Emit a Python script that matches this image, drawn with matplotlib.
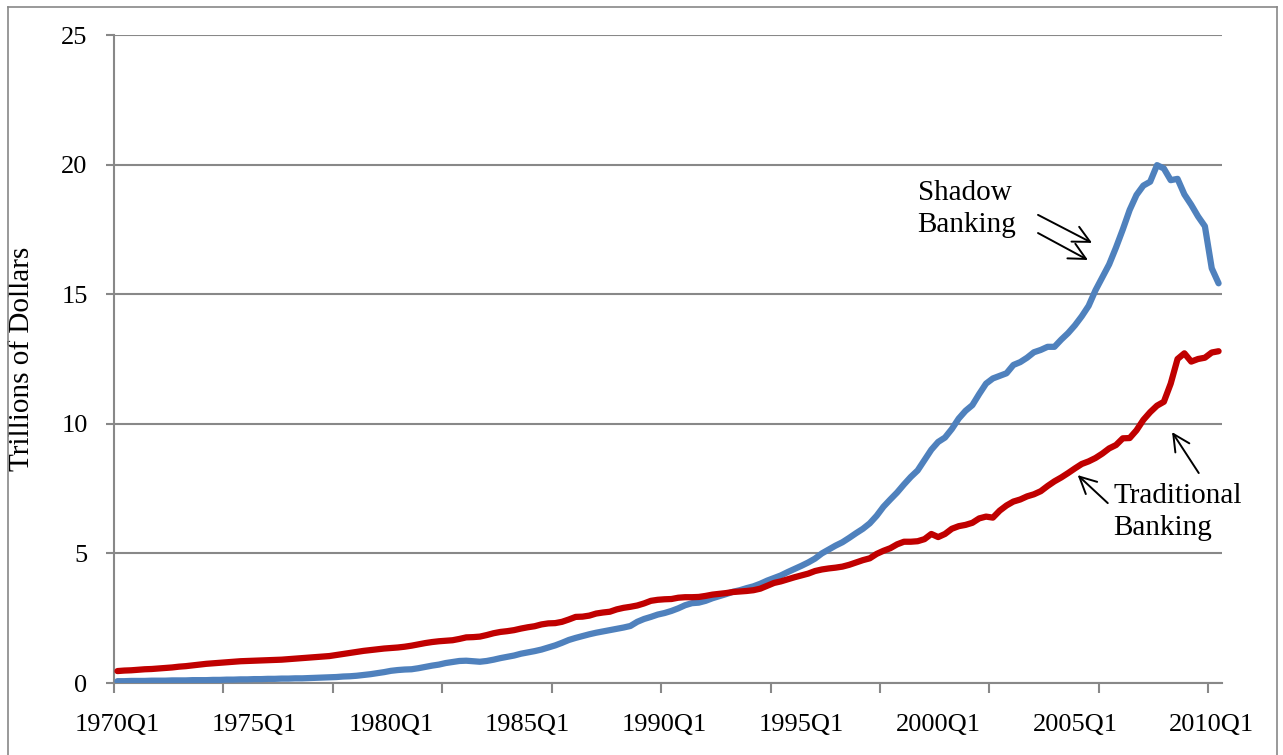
import matplotlib
matplotlib.use("Agg")
import matplotlib.pyplot as plt
from matplotlib.lines import Line2D

# Quarterly data, 1970Q1 - 2010Q2 (trillions of dollars)
start_year = 1970
shadow = [
    0.07, 0.07, 0.08, 0.08, 0.08, 0.09, 0.09, 0.09,
    0.10, 0.10, 0.10, 0.11, 0.11, 0.11, 0.12, 0.12,
    0.13, 0.13, 0.14, 0.14, 0.15, 0.15, 0.16, 0.16,
    0.17, 0.17, 0.18, 0.18, 0.19, 0.20, 0.21, 0.22,
    0.23, 0.25, 0.26, 0.28, 0.31, 0.34, 0.38, 0.42,
    0.47, 0.50, 0.52, 0.53, 0.57, 0.62, 0.67, 0.71,
    0.77, 0.81, 0.85, 0.86, 0.84, 0.82, 0.85, 0.90,
    0.96, 1.01, 1.06, 1.13, 1.18, 1.23, 1.29, 1.37,
    1.45, 1.55, 1.66, 1.74, 1.81, 1.88, 1.94, 1.99,
    2.04, 2.09, 2.14, 2.20, 2.36, 2.47, 2.55, 2.64,
    2.70, 2.78, 2.88, 3.00, 3.08, 3.10, 3.17, 3.27,
    3.35, 3.43, 3.52, 3.58, 3.66, 3.73, 3.83, 3.95,
    4.05, 4.15, 4.28, 4.40, 4.52, 4.65, 4.80, 5.00,
    5.15, 5.30, 5.43, 5.60, 5.78, 5.95, 6.16, 6.45,
    6.80, 7.08, 7.35, 7.66, 7.95, 8.20, 8.60, 9.00,
    9.30, 9.47, 9.80, 10.20, 10.50, 10.72, 11.15, 11.55,
    11.75, 11.85, 11.95, 12.27, 12.38, 12.55, 12.76, 12.85,
    12.97, 12.97, 13.25, 13.50, 13.80, 14.15, 14.55, 15.15,
    15.65, 16.15, 16.80, 17.50, 18.25, 18.83, 19.19, 19.34,
    19.98, 19.85, 19.40, 19.45, 18.85, 18.45, 18.00, 17.62,
    16.00, 15.42,
]
traditional = [
    0.46, 0.48, 0.49, 0.51, 0.53, 0.54, 0.56, 0.58,
    0.60, 0.63, 0.65, 0.68, 0.71, 0.74, 0.76, 0.78,
    0.80, 0.82, 0.84, 0.85, 0.86, 0.87, 0.88, 0.89,
    0.90, 0.92, 0.94, 0.96, 0.98, 1.00, 1.02, 1.04,
    1.08, 1.12, 1.16, 1.20, 1.24, 1.27, 1.30, 1.33,
    1.35, 1.37, 1.40, 1.44, 1.49, 1.54, 1.58, 1.61,
    1.63, 1.65, 1.70, 1.76, 1.77, 1.79, 1.85, 1.92,
    1.97, 2.00, 2.04, 2.10, 2.15, 2.19, 2.26, 2.30,
    2.31, 2.36, 2.45, 2.55, 2.56, 2.60, 2.68, 2.72,
    2.75, 2.84, 2.90, 2.94, 2.99, 3.07, 3.17, 3.21,
    3.23, 3.24, 3.29, 3.31, 3.31, 3.32, 3.36, 3.41,
    3.44, 3.47, 3.51, 3.53, 3.55, 3.58, 3.64, 3.75,
    3.86, 3.92, 4.00, 4.08, 4.15, 4.22, 4.32, 4.38,
    4.42, 4.45, 4.49, 4.56, 4.65, 4.74, 4.81, 4.98,
    5.10, 5.20, 5.35, 5.45, 5.45, 5.47, 5.55, 5.75,
    5.63, 5.75, 5.95, 6.05, 6.10, 6.18, 6.35, 6.42,
    6.38, 6.65, 6.85, 7.00, 7.08, 7.20, 7.28, 7.40,
    7.60, 7.78, 7.93, 8.10, 8.28, 8.45, 8.55, 8.68,
    8.85, 9.05, 9.18, 9.44, 9.45, 9.75, 10.15, 10.45,
    10.70, 10.85, 11.55, 12.50, 12.72, 12.40, 12.50, 12.55,
    12.75, 12.80,
]
y_ticks = [0, 5, 10, 15, 20, 25]
label_years = [1970, 1975, 1980, 1985, 1990, 1995, 2000, 2005, 2010]
y_label = "Trillions of Dollars"
shadow_label = "Shadow\nBanking"
trad_label = "Traditional\nBanking"

plt.rcParams['font.family'] = ['Liberation Serif', 'DejaVu Serif']

W, H = 1283, 755
fig = plt.figure(figsize=(W / 100, H / 100), dpi=100)
ax = fig.add_axes([114 / W, (H - 683) / H, (1222 - 114) / W, (683 - 35) / H])

n = len(shadow)
x = list(range(n))
grid_c = '#888888'

ax.plot(x, shadow, color='#4F81BD', lw=4.5, solid_joinstyle='round',
        solid_capstyle='round', zorder=3)
ax.plot(x, traditional, color='#C00000', lw=4.5, solid_joinstyle='round',
        solid_capstyle='round', zorder=3)

ax.set_xlim(-0.5, n - 0.5)
ax.set_ylim(0, 25)

# y axis
ax.set_yticks(y_ticks)
ax.set_yticklabels([str(v) for v in y_ticks], fontsize=19)
ax.yaxis.grid(True, color=grid_c, lw=1.5)
ax.set_axisbelow(True)
ax.tick_params(axis='y', direction='out', length=6, width=1.5, color=grid_c, pad=13)

# x axis: tick marks every 16 quarters (category boundaries), labels every 20 quarters
ax.set_xticks([-0.5 + 16 * k for k in range(11)])
ax.set_xticklabels([])
ax.tick_params(axis='x', which='major', direction='out', length=7, width=1.5, color=grid_c)
lab_pos = [(yr - start_year) * 4 for yr in label_years]
ax.set_xticks(lab_pos, minor=True)
ax.set_xticklabels([f"{yr}Q1" for yr in label_years], minor=True, fontsize=19)
ax.tick_params(axis='x', which='minor', length=0, pad=22)

for s in ['top', 'right']:
    ax.spines[s].set_visible(False)
for s in ['left', 'bottom']:
    ax.spines[s].set_color(grid_c)
    ax.spines[s].set_linewidth(1.5)

ax.set_ylabel(y_label, fontsize=21)
ax.yaxis.set_label_coords(-(114 - 35) / (1222 - 114), 0.5)

# annotations
ax.text(117.0, 18.30, shadow_label, fontsize=21, ha='left', va='center', linespacing=1.3)
ax.text(145.6, 6.60, trad_label, fontsize=21, ha='left', va='center', linespacing=1.3)

arrow = dict(arrowstyle='->', lw=1.4, color='black', mutation_scale=30, shrinkA=0, shrinkB=0)
ax.annotate('', xy=(142.5, 16.98), xytext=(134.6, 18.06), arrowprops=arrow)
ax.annotate('', xy=(141.9, 16.32), xytext=(134.6, 17.36), arrowprops=arrow)
ax.annotate('', xy=(140.4, 8.02), xytext=(144.8, 6.94), arrowprops=arrow)
ax.annotate('', xy=(154.2, 9.68), xytext=(158.1, 8.10), arrowprops=arrow)

# outer frame
fx = lambda px: px / W
fy = lambda py: 1 - py / H
frame_kw = dict(color='#888888', lw=1.2, transform=fig.transFigure)
fig.add_artist(Line2D([fx(8), fx(8)], [fy(7), 0], **frame_kw))
fig.add_artist(Line2D([fx(8), fx(1277)], [fy(7), fy(7)], **frame_kw))
fig.add_artist(Line2D([fx(1277), fx(1277)], [fy(7), 0], **frame_kw))

fig.savefig('out.png', dpi=100)
